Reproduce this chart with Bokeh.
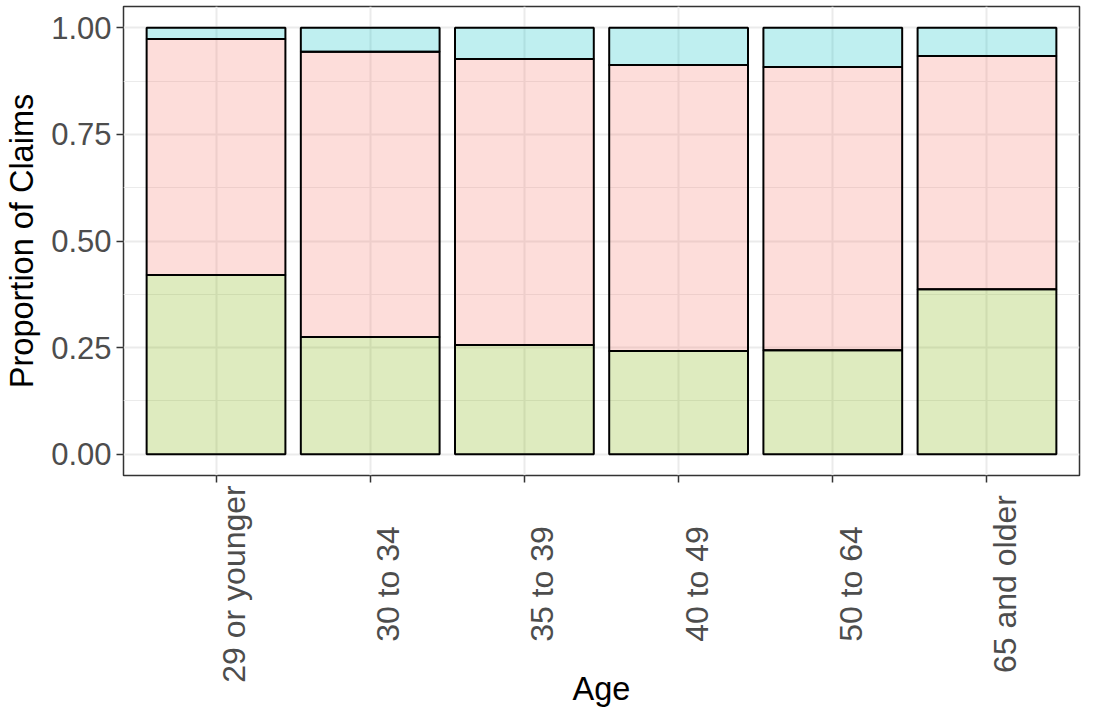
import math
from bokeh.plotting import figure
from bokeh.layouts import column
from bokeh.models import Range1d, FixedTicker, ColumnDataSource
from bokeh.core.properties import value
from bokeh.embed import file_html
from bokeh.resources import INLINE

# ---- data ----
ages = ["29 or younger", "30 to 34", "35 to 39", "40 to 49", "50 to 64", "65 and older"]
share_green = [0.420, 0.275, 0.256, 0.242, 0.244, 0.387]
share_pink = [0.554, 0.669, 0.671, 0.671, 0.664, 0.547]
share_cyan = [0.026, 0.056, 0.073, 0.087, 0.092, 0.066]
y_ticks = [0.0, 0.25, 0.5, 0.75, 1.0]
y_tick_labels = ["0.00", "0.25", "0.50", "0.75", "1.00"]
y_minor = [0.125, 0.375, 0.625, 0.875]
x_title = "Age"
y_title = "Proportion of Claims"

xpos = list(range(1, len(ages) + 1))
source = ColumnDataSource(dict(x=xpos, g=share_green, p=share_pink, c=share_cyan))

FONT = "Liberation Sans"
W = 1081
TOP_H = 483
BOT_H = 707 - TOP_H
LEFT = 123
RIGHT = 2

xr = Range1d(0.4, len(ages) + 0.6)

# ---- main panel ----
p = figure(width=W, height=TOP_H, output_backend="svg", toolbar_location=None,
           x_range=xr, y_range=Range1d(-0.05, 1.05),
           min_border_left=LEFT, min_border_right=RIGHT, min_border_top=6, min_border_bottom=8)

p.background_fill_color = "white"
p.border_fill_color = "white"
p.outline_line_color = "#333333"
p.outline_line_width = 1.5

p.vbar_stack(["g", "p", "c"], x="x", width=0.9, source=source,
             fill_color=["#7CAE00", "#F8766D", "#00BFC4"], fill_alpha=0.25,
             line_color="black", line_width=2)

p.xaxis.ticker = FixedTicker(ticks=xpos)
p.xaxis.major_label_overrides = {x: "" for x in xpos}
p.xaxis.major_label_text_font_size = "0px"
p.xaxis.major_label_standoff = 0
p.yaxis.ticker = FixedTicker(ticks=y_ticks, minor_ticks=y_minor)
p.yaxis.major_label_overrides = {t: l for t, l in zip(y_ticks, y_tick_labels)}

for ax in (p.xaxis[0], p.yaxis[0]):
    ax.axis_line_color = None
    ax.major_tick_line_color = "#333333"
    ax.major_tick_line_width = 1.5
    ax.major_tick_out = 7
    ax.major_tick_in = 0
    ax.minor_tick_line_color = None

p.yaxis.major_label_text_font = FONT
p.yaxis.major_label_text_font_size = "31px"
p.yaxis.major_label_text_color = "#4D4D4D"
p.yaxis.major_label_standoff = 5
p.yaxis.axis_label = y_title
p.yaxis.axis_label_text_font = FONT
p.yaxis.axis_label_text_font_size = "32.5px"
p.yaxis.axis_label_text_font_style = "normal"
p.yaxis.axis_label_text_color = "black"
p.yaxis.axis_label_standoff = 8

p.xgrid.ticker = FixedTicker(ticks=xpos)
p.xgrid.grid_line_color = "#EBEBEB"
p.xgrid.grid_line_width = 2
p.ygrid.ticker = FixedTicker(ticks=y_ticks, minor_ticks=y_minor)
p.ygrid.grid_line_color = "#EBEBEB"
p.ygrid.grid_line_width = 2
p.ygrid.minor_grid_line_color = "#EBEBEB"
p.ygrid.minor_grid_line_width = 1

# ---- category labels and x title, in a strip below the panel sharing its x scale ----
q = figure(width=W, height=BOT_H, output_backend="svg", toolbar_location=None,
           x_range=xr, y_range=Range1d(0, BOT_H),
           x_axis_location=None, y_axis_location=None,
           min_border_left=LEFT, min_border_right=RIGHT, min_border_top=0, min_border_bottom=0)
q.outline_line_color = None
q.grid.visible = False
q.background_fill_color = "white"
q.border_fill_color = "white"

lab_src = ColumnDataSource(dict(x=xpos, y=[BOT_H - 100.5] * len(xpos), t=ages))
q.text(x="x", y="y", text="t", source=lab_src, angle=math.pi / 2,
       text_align="center", text_baseline="top",
       text_font=value(FONT), text_font_size="32px", text_color="#4D4D4D")
q.text(x=[(xr.start + xr.end) / 2], y=[1], text=[x_title],
       text_align="center", text_baseline="bottom",
       text_font=value(FONT), text_font_size="32.5px", text_color="black")

open("out.html", "w").write(file_html(column(p, q, spacing=0), INLINE))
